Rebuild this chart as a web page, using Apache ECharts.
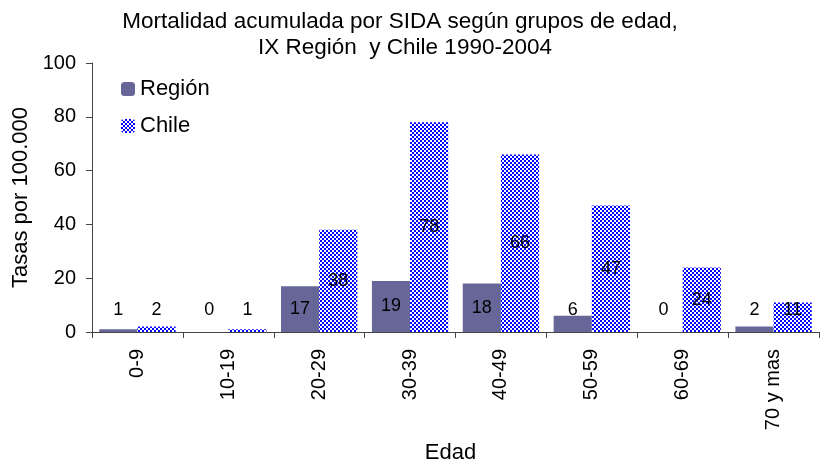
<!DOCTYPE html>
<html>
<head>
<meta charset="utf-8">
<script src="https://cdn.jsdelivr.net/npm/echarts@6/dist/echarts.min.js"></script>
<style>html,body{margin:0;padding:0;background:#fff;}#c{width:830px;height:469px;}</style>
</head>
<body>
<div id="c"></div>
<script>
const categories = ['0-9', '10-19', '20-29', '30-39', '40-49', '50-59', '60-69', '70 y mas'];
const regionValues = [1, 0, 17, 19, 18, 6, 0, 2];
const chileValues = [2, 1, 38, 78, 66, 47, 24, 11];
const seriesNames = ['Región', 'Chile'];
const yTicks = [0, 20, 40, 60, 80, 100];
const titleLines = ['Mortalidad acumulada por SIDA según grupos de edad,', 'IX Región  y Chile 1990-2004'];

const FONT = '"Liberation Sans", Arial, sans-serif';

// checkerboard pattern for Chile
const pat = document.createElement('canvas');
pat.width = 4; pat.height = 4;
const pc = pat.getContext('2d');
pc.fillStyle = '#ffffff'; pc.fillRect(0, 0, 4, 4);
pc.fillStyle = '#0000ff'; pc.fillRect(0, 0, 2, 2); pc.fillRect(2, 2, 2, 2);

const PX_PER_UNIT = 275 / 100;
function labelled(values) {
  return values.map(v => {
    const half = v * PX_PER_UNIT / 2;
    if (half < 23) {
      return { value: v, label: { position: 'insideBottom', distance: 13 } };
    }
    return { value: v, label: { position: 'inside' } };
  });
}

const titleStyle = { fontFamily: FONT, fontSize: 22.5, fontWeight: 'normal', color: '#000', lineHeight: 26 };

const chart = echarts.init(document.getElementById('c'), null, { renderer: 'canvas' });
chart.setOption({
  animation: false,
  backgroundColor: '#fff',
  title: [
    { text: titleLines[0], left: 400, top: 9, padding: 0, textAlign: 'center', textStyle: titleStyle },
    { text: titleLines[1], left: 405, top: 35, padding: 0, textAlign: 'center', textStyle: titleStyle }
  ],
  legend: {
    orient: 'vertical', left: 116, top: 73, itemGap: 15,
    itemWidth: 14, itemHeight: 14,
    data: seriesNames,
    textStyle: { fontFamily: FONT, fontSize: 22, color: '#000' }
  },
  grid: { left: 92, right: 11, top: 63, bottom: 131, containLabel: false },
  xAxis: {
    type: 'category', data: categories,
    name: 'Edad', nameLocation: 'middle', nameGap: 110,
    nameTextStyle: { fontFamily: FONT, fontSize: 22, color: '#000', padding: [0, 10, 0, 0] },
    axisLine: { lineStyle: { color: '#444', width: 1 } },
    axisTick: { show: true, interval: 0, length: 6, lineStyle: { color: '#444' } },
    axisLabel: { rotate: 90, margin: 17, interval: 0, fontFamily: FONT, fontSize: 20, color: '#000' }
  },
  yAxis: {
    type: 'value', min: yTicks[0], max: yTicks[yTicks.length - 1], interval: 20,
    name: 'Tasas por 100.000', nameLocation: 'middle', nameGap: 56,
    nameTextStyle: { fontFamily: FONT, fontSize: 22, color: '#000' },
    axisLine: { show: true, lineStyle: { color: '#444', width: 1 } },
    axisTick: { show: true, length: 6, lineStyle: { color: '#444' } },
    splitLine: { show: false },
    axisLabel: { margin: 16, fontFamily: FONT, fontSize: 20, color: '#000' }
  },
  series: [
    {
      name: seriesNames[0], type: 'bar', data: labelled(regionValues),
      barGap: '0%', barCategoryGap: '16%',
      itemStyle: { color: '#666699' },
      label: { show: true, fontFamily: FONT, fontSize: 18, color: '#000' }
    },
    {
      name: seriesNames[1], type: 'bar', data: labelled(chileValues),
      barGap: '0%', barCategoryGap: '16%',
      itemStyle: { color: { image: pat, repeat: 'repeat' } },
      label: { show: true, fontFamily: FONT, fontSize: 18, color: '#000' }
    }
  ]
});
</script>
</body>
</html>
